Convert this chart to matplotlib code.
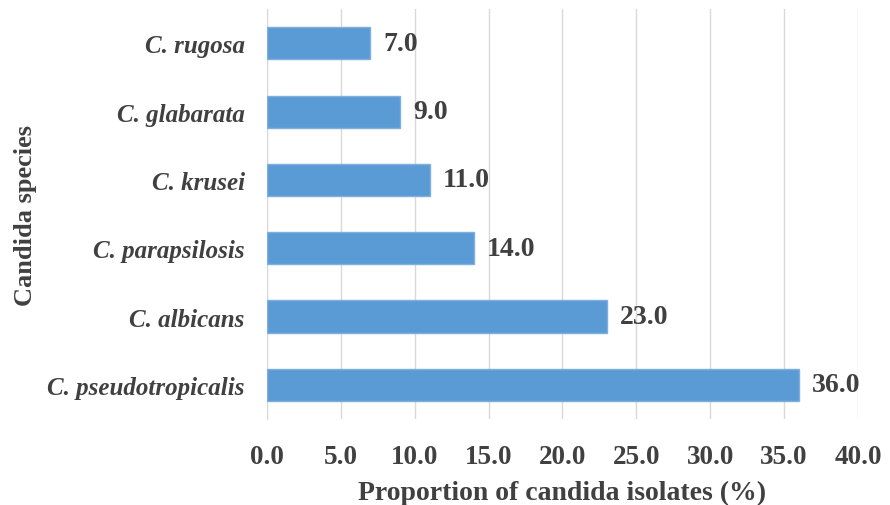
import matplotlib.pyplot as plt

species = ["C. pseudotropicalis", "C. albicans", "C. parapsilosis",
           "C. krusei", "C. glabarata", "C. rugosa"]
proportion = [36.0, 23.0, 14.0, 11.0, 9.0, 7.0]
xticks = [0, 5, 10, 15, 20, 25, 30, 35, 40]

plt.rcParams['font.family'] = ['Liberation Serif', 'DejaVu Serif']
txt = '#404040'

fig = plt.figure(figsize=(8.9, 5.06), dpi=100)
ax = fig.add_axes([0.3, 0.17, 0.664, 0.81])

bars = ax.barh(species, proportion, height=0.47, color='#5B9BD5',
               edgecolor='#7FB0DD', linewidth=1, zorder=3)
for b, v in zip(bars, proportion):
    ax.text(v + 0.9, b.get_y() + b.get_height() / 2, f"{v:.1f}",
            va='center', ha='left', fontsize=20, fontweight='bold', color=txt)

ax.set_xlim(0, 40)
ax.set_ylim(-0.5, len(species) - 0.5)
ax.set_xticks(xticks)
ax.set_xticklabels([f"{t:.1f}" for t in xticks], fontsize=19.5,
                   fontweight='bold', color=txt)
ax.set_yticks(range(len(species)))
ax.set_yticklabels(species, fontsize=18, fontstyle='italic',
                   fontweight='bold', color=txt)
ax.tick_params(length=0, pad=16)
ax.tick_params(axis='x', pad=18)
ax.grid(axis='x', color='#D9D9D9', linewidth=1, zorder=0)
for s in ['top', 'right', 'bottom']:
    ax.spines[s].set_visible(False)
ax.spines['left'].set_color('#D9D9D9')

ax.set_xlabel("Proportion of candida isolates (%)", fontsize=20,
              fontweight='bold', color=txt, labelpad=7.5)
ax.set_ylabel("Candida species", fontsize=19, fontweight='bold',
              color=txt)
ax.yaxis.set_label_coords(-0.39, 0.5)

fig.savefig("out.png", dpi=100)
